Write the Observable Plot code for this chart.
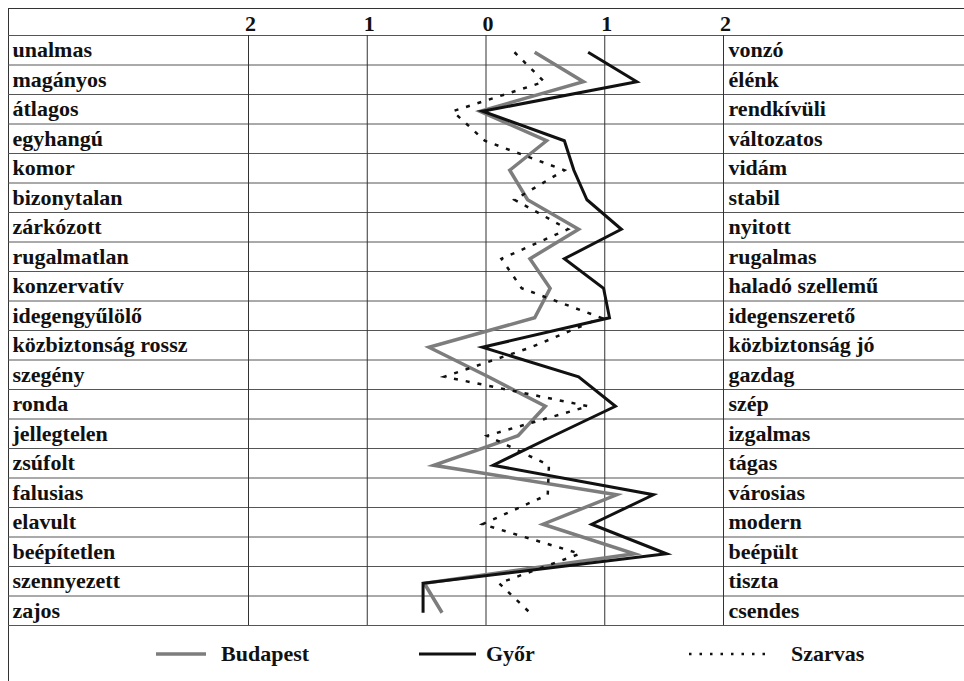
<!DOCTYPE html>
<html><head><meta charset="utf-8">
<script src="https://cdn.jsdelivr.net/npm/d3@7"></script>
<script src="https://cdn.jsdelivr.net/npm/@observablehq/plot@0.6"></script>
<style>
body{margin:0;background:#fff;}
#wrap{position:relative;width:964px;height:681px;font-family:"Liberation Serif","Times New Roman",serif;font-weight:bold;color:#111;overflow:hidden;}
#wrap svg{display:block;}
#wrap svg text{font-family:"Liberation Serif","Times New Roman",serif;}
#legend{position:absolute;left:8px;top:626px;width:956px;height:55px;border-left:1px solid #333;box-sizing:border-box;}
.lg{position:absolute;top:0;height:55px;display:flex;align-items:center;font-size:22px;}
</style></head><body><div id="wrap"><div id="legend"></div></div>
<script>
const leftLabels = ["unalmas","magányos","átlagos","egyhangú","komor","bizonytalan","zárkózott","rugalmatlan","konzervatív","idegengyűlölő","közbiztonság rossz","szegény","ronda","jellegtelen","zsúfolt","falusias","elavult","beépítetlen","szennyezett","zajos"];
const rightLabels = ["vonzó","élénk","rendkívüli","változatos","vidám","stabil","nyitott","rugalmas","haladó szellemű","idegenszerető","közbiztonság jó","gazdag","szép","izgalmas","tágas","városias","modern","beépült","tiszta","csendes"];
const budapest = [0.41, 0.82, -0.05, 0.51, 0.20, 0.35, 0.78, 0.37, 0.54, 0.41, -0.48, 0.02, 0.50, 0.27, -0.44, 1.10, 0.48, 1.25, -0.52, -0.37];
const gyor     = [0.86, 1.27, -0.03, 0.66, 0.74, 0.85, 1.14, 0.66, 0.99, 1.04, -0.03, 0.78, 1.09, 0.57, 0.06, 1.41, 0.89, 1.52, -0.53, -0.53];
const szarvas  = [0.24, 0.49, -0.28, -0.01, 0.66, 0.24, 0.69, 0.13, 0.30, 0.97, 0.38, -0.35, 0.86, 0.01, 0.53, 0.52, -0.03, 0.79, 0.11, 0.37];
const xTicks = [-2, -1, 0, 1, 2];
const xTickLabels = ["2", "1", "0", "1", "2"];
const seriesNames = ["Budapest", "Győr", "Szarvas"];

const rows = leftLabels.map((l, i) => ({i, left: l, right: rightLabels[i]}));
const boundaries = d3.range(-0.5, leftLabels.length, 1);

const styles = [
  {stroke: "#7d7d7d", strokeWidth: 3.5, dash: null},
  {stroke: "#111", strokeWidth: 3, dash: null},
  {stroke: "#111", strokeWidth: 2.5, dash: "4,8"}
];
const seriesValues = [budapest, gyor, szarvas];

const chart = Plot.plot({
  width: 964, height: 627,
  marginLeft: 8, marginRight: 0, marginTop: 8, marginBottom: 0,
  x: {domain: [-2, 2], range: [248, 723], axis: null},
  y: {domain: [-0.5, leftLabels.length - 0.5], range: [35, 625], axis: null},
  style: {fontFamily: "'Liberation Serif', 'Times New Roman', serif", fontSize: "22px", color: "#111", background: "white"},
  marks: [
    Plot.frame({anchor: "left", stroke: "#333"}),
    Plot.frame({anchor: "top", stroke: "#333"}),
    Plot.ruleY(boundaries, {stroke: "#555", strokeWidth: 1}),
    Plot.ruleX(xTicks, {y1: -0.5, y2: leftLabels.length - 0.5, stroke: "#333", strokeWidth: 1}),
    Plot.text(xTicks, {x: d => d, y: -0.5, text: (d, i) => xTickLabels[i], dx: 2, dy: -5, lineAnchor: "bottom", fill: "#111", fontWeight: "bold"}),
    Plot.text(rows, {y: "i", text: "left", frameAnchor: "left", textAnchor: "start", dx: 4, fill: "#111", fontWeight: "bold"}),
    Plot.text(rows, {x: 2, y: "i", text: "right", textAnchor: "start", dx: 5, fill: "#111", fontWeight: "bold"}),
    ...seriesValues.map((vals, s) => Plot.line(rows, {
      x: (d, i) => vals[i], y: "i", dy: 2,
      stroke: styles[s].stroke, strokeWidth: styles[s].strokeWidth,
      strokeDasharray: styles[s].dash, strokeLinejoin: "miter", strokeMiterlimit: 10,
      strokeLinecap: "butt"
    }))
  ]
});
document.getElementById("wrap").prepend(chart);

const legend = document.getElementById("legend");
const legendPos = [{line: 147, text: 212}, {line: 410, text: 477}, {line: 680, text: 782}];
const lineWidths = [50, 57, 78];
seriesNames.forEach((name, s) => {
  const sw = document.createElement("div");
  sw.className = "lg";
  sw.style.left = legendPos[s].line + "px";
  const st = styles[s];
  sw.innerHTML = `<svg width="${lineWidths[s]}" height="10"><line x1="0" x2="${lineWidths[s]}" y1="5" y2="5" stroke="${st.stroke}" stroke-width="${st.strokeWidth}" ${st.dash ? `stroke-dasharray="2.5,8"` : ""}/></svg>`;
  legend.appendChild(sw);
  const tx = document.createElement("div");
  tx.className = "lg";
  tx.style.left = legendPos[s].text + "px";
  tx.textContent = name;
  legend.appendChild(tx);
});
</script>
</body></html>
